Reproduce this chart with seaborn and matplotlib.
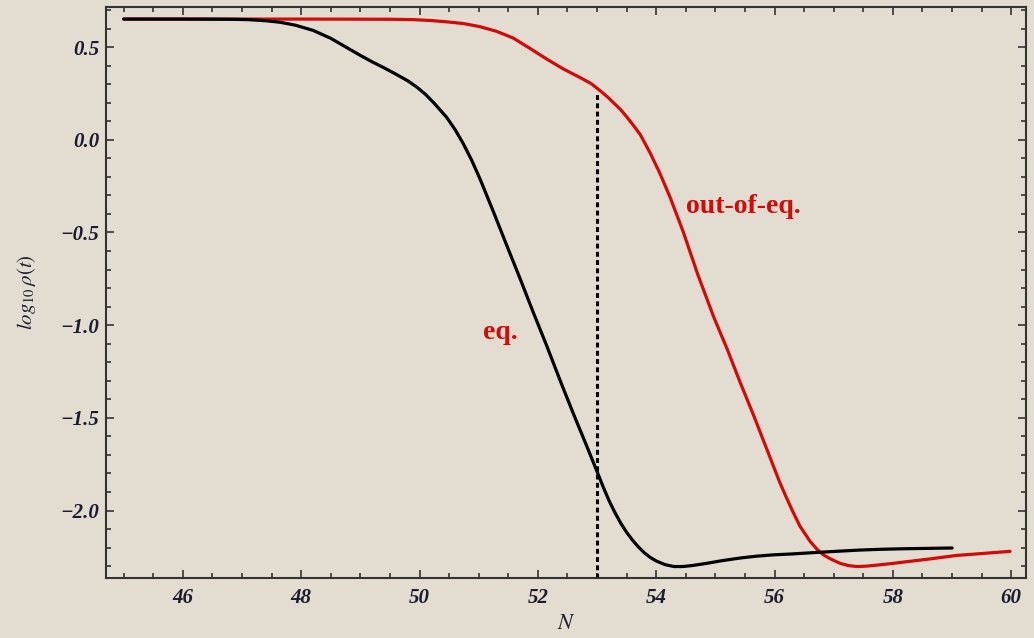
import matplotlib
matplotlib.use("Agg")
import matplotlib.pyplot as plt
import numpy as np
import pandas as pd
import seaborn as sns
from matplotlib.ticker import MultipleLocator

# ---- data ----
eq_N = [45.0, 46.0, 46.8, 47.1, 47.4, 47.64, 47.9, 48.2, 48.5, 48.77, 49.0, 49.2,
        49.4, 49.61, 49.8, 49.95, 50.1, 50.25, 50.46, 50.6, 50.74, 50.88, 51.02,
        51.25, 51.47, 51.7, 51.92, 52.15, 52.37, 52.6, 52.83, 53.0, 53.1, 53.2,
        53.3, 53.4, 53.5, 53.6, 53.7, 53.8, 53.9, 54.0, 54.15, 54.3, 54.45, 54.6,
        54.85, 55.1, 55.42, 55.7, 55.98, 56.3, 56.71, 57.1, 57.45, 57.8, 58.2, 58.6, 59.0]
eq_logrho = [0.651, 0.651, 0.650, 0.648, 0.642, 0.634, 0.618, 0.590, 0.547, 0.497, 0.455, 0.420,
             0.388, 0.352, 0.318, 0.285, 0.245, 0.196, 0.120, 0.055, -0.022, -0.110, -0.210,
             -0.390, -0.567, -0.750, -0.930, -1.112, -1.294, -1.478, -1.656, -1.790, -1.870, -1.945,
             -2.010, -2.068, -2.118, -2.160, -2.197, -2.228, -2.253, -2.272, -2.292, -2.302, -2.302, -2.297,
             -2.285, -2.271, -2.256, -2.246, -2.239, -2.234, -2.226, -2.219, -2.213, -2.209, -2.206, -2.204, -2.202]

neq_N = [45.0, 48.0, 49.5, 49.89, 50.2, 50.46, 50.74, 51.02, 51.3, 51.58, 51.87,
         52.15, 52.43, 52.71, 52.9, 53.05, 53.18, 53.28, 53.4, 53.5, 53.62, 53.73,
         53.9, 54.06, 54.23, 54.46, 54.7, 54.97, 55.2, 55.42, 55.65, 55.87, 55.98,
         56.09, 56.2, 56.3, 56.43, 56.6, 56.72, 56.83, 56.97, 57.11, 57.25, 57.39,
         57.55, 57.8, 58.0, 58.23, 58.6, 59.08, 59.5, 59.98]
neq_logrho = [0.651, 0.651, 0.650, 0.648, 0.643, 0.636, 0.627, 0.610, 0.585, 0.549, 0.492,
              0.435, 0.382, 0.336, 0.303, 0.265, 0.230, 0.199, 0.162, 0.124, 0.075, 0.028,
              -0.073, -0.180, -0.307, -0.500, -0.725, -0.955, -1.130, -1.310, -1.490, -1.670, -1.760,
              -1.850, -1.930, -2.000, -2.085, -2.166, -2.210, -2.240, -2.265, -2.285, -2.297, -2.302,
              -2.300, -2.292, -2.285, -2.276, -2.262, -2.242, -2.232, -2.220]

cut_N = [53.0, 53.0]
cut_logrho = [-2.364, 0.255]

x_ticks = [46, 48, 50, 52, 54, 56, 58, 60]
y_ticks = [-2.0, -1.5, -1.0, -0.5, 0.0, 0.5]
series_names = ["out-of-eq.", "eq."]

# ---- style ----
sns.set_theme(style="ticks")
plt.rcParams['font.family'] = ['Liberation Serif', 'DejaVu Serif']
plt.rcParams['mathtext.fontset'] = 'stix'

bg = '#e3dcd0'
ink = '#1c1c2e'
frame = '#333333'

fig = plt.figure(figsize=(10.34, 6.38), dpi=100, facecolor=bg)
ax = fig.add_axes([0.1025, 0.094, 0.8898, 0.895])
ax.set_facecolor(bg)

df = pd.concat([
    pd.DataFrame({"N": neq_N, "logrho": neq_logrho, "series": series_names[0]}),
    pd.DataFrame({"N": eq_N, "logrho": eq_logrho, "series": series_names[1]}),
], ignore_index=True)

sns.lineplot(data=df, x="N", y="logrho", hue="series", hue_order=series_names,
             palette={"out-of-eq.": "#d10a0a", "eq.": "#000000"},
             sort=False, estimator=None, linewidth=2.3, legend=False, ax=ax)
for ln in ax.lines:
    ln.set_solid_joinstyle('round')
    ln.set_solid_capstyle('round')

ax.plot(cut_N, cut_logrho, color='black', linewidth=2.2, linestyle=(0, (1.6, 1.1)))

ax.set_xlim(44.70, 60.25)
ax.set_ylim(-2.364, 0.716)

ax.set_xticks(x_ticks, labels=[str(v) for v in x_ticks], fontsize=15,
              fontstyle='italic', fontweight='bold', color=ink)
ax.set_yticks(y_ticks, labels=[f"{v:.1f}".replace('-', '\u2212') for v in y_ticks], fontsize=15,
              fontstyle='italic', fontweight='bold', color=ink)
ax.xaxis.set_minor_locator(MultipleLocator(0.5))
ax.yaxis.set_minor_locator(MultipleLocator(0.1))
ax.tick_params(which='both', direction='in', top=True, right=True, color=frame, width=1.2)
ax.tick_params(which='major', length=6, pad=7)
ax.tick_params(axis='y', which='major', pad=5)
ax.tick_params(which='minor', length=3.5)
for s in ax.spines.values():
    s.set_color(frame)
    s.set_linewidth(1.5)

ax.set_xlabel("$N$", fontsize=16, color=ink, va='top')
ax.xaxis.set_label_coords(0.5, -0.064)
ax.set_ylabel(r"$log_{10}\,\rho(t)$", fontsize=15, color=ink)
ax.yaxis.set_label_coords(-0.074, 0.5)

ax.text(51.36, -1.04, "eq.", color='#d10a0a', fontsize=20, fontweight='bold',
        ha='center', va='center')
ax.text(55.47, -0.36, "out-of-eq.", color='#d10a0a', fontsize=20, fontweight='bold',
        ha='center', va='center')

fig.savefig("out.png", dpi=100, facecolor=bg)
